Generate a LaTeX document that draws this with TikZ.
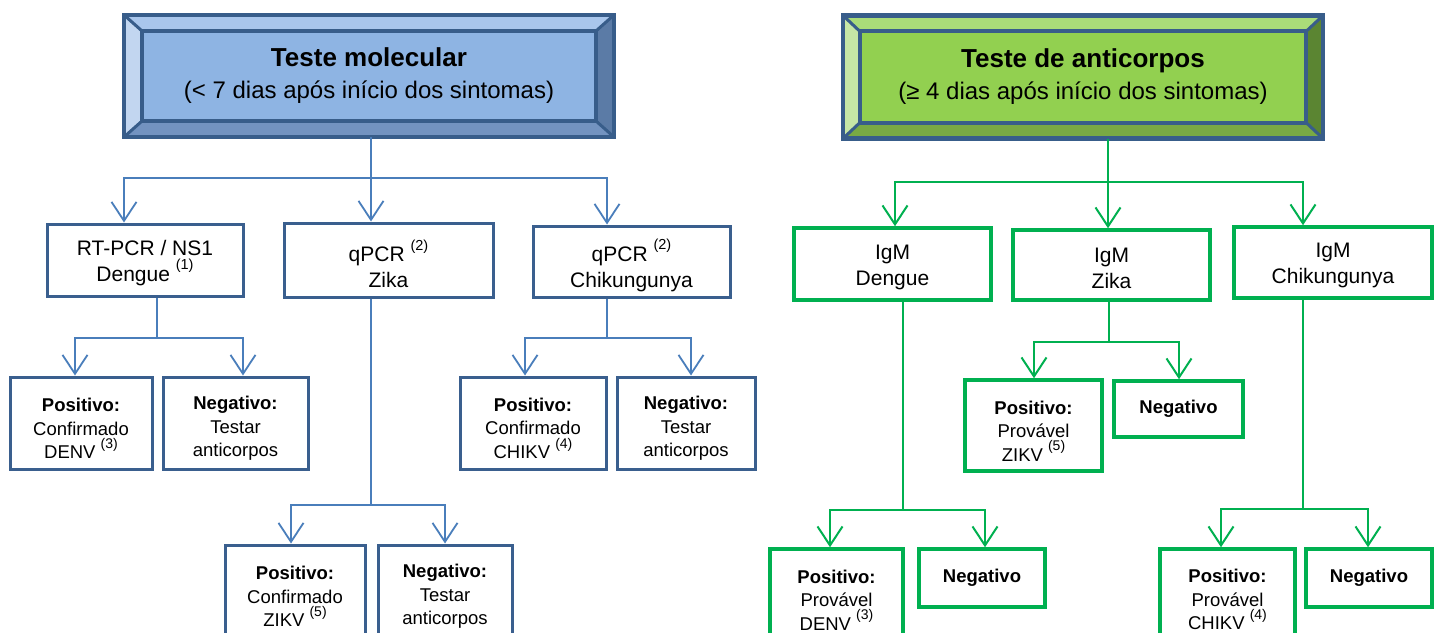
\documentclass[tikz,border=0pt]{standalone}
\usepackage{fontspec}
\setmainfont{Liberation Sans}
\usetikzlibrary{arrows.meta,calc}
\pgfdeclarelayer{background}
\pgfsetlayers{background,main}
\definecolor{hdrline}{HTML}{385D8A}
\definecolor{boxblue}{HTML}{3A5F8E}
\definecolor{connblue}{HTML}{4A7EBB}
\definecolor{grn}{HTML}{00B050}
\definecolor{bC}{HTML}{8EB4E3}
\definecolor{bT}{HTML}{A9C6EC}
\definecolor{bL}{HTML}{C2D6F0}
\definecolor{bR}{HTML}{5B7BA6}
\definecolor{bB}{HTML}{7393C0}
\definecolor{gC}{HTML}{92D050}
\definecolor{gT}{HTML}{AADC79}
\definecolor{gL}{HTML}{C6E6A6}
\definecolor{gR}{HTML}{5B8532}
\definecolor{gB}{HTML}{79A944}
\newcommand\upa[1]{\raisebox{0.55em}{\fontsize{14.5}{14.5}\selectfont #1}}
\newcommand\upb[1]{\raisebox{0.55em}{\fontsize{14}{14}\selectfont #1}}
\newcommand\tstr[1]{\rule{0pt}{#1}}
% bevel: name, dx, dy, top, left, right, bottom, centre
\newcommand\bevelbox[8]{%
  \begin{pgfonlayer}{background}
    \coordinate (#1-inw) at ($(#1.north west)+(#2,#3)$);
    \coordinate (#1-ine) at ($(#1.north east)+(-#2,#3)$);
    \coordinate (#1-isw) at ($(#1.south west)+(#2,-#3)$);
    \coordinate (#1-ise) at ($(#1.south east)+(-#2,-#3)$);
    \fill[#4] (#1.north west) -- (#1.north east) -- (#1-ine) -- (#1-inw) -- cycle;
    \fill[#5] (#1.north west) -- (#1-inw) -- (#1-isw) -- (#1.south west) -- cycle;
    \fill[#6] (#1.north east) -- (#1.south east) -- (#1-ise) -- (#1-ine) -- cycle;
    \fill[#7] (#1.south west) -- (#1-isw) -- (#1-ise) -- (#1.south east) -- cycle;
    \fill[#8] (#1-inw) rectangle (#1-ise);
    \draw[hdrline, line width=3pt] (#1.north west) -- (#1-inw) (#1.north east) -- (#1-ine)
      (#1.south west) -- (#1-isw) (#1.south east) -- (#1-ise);
    \draw[hdrline, line width=4pt] (#1-inw) rectangle (#1-ise);
    \draw[hdrline, line width=4.5pt] (#1.north west) rectangle (#1.south east);
  \end{pgfonlayer}}
\begin{document}
\begin{tikzpicture}[x=1pt,y=-1pt,
  hdr/.style={inner sep=0pt, align=center, font=\fontsize{24}{32}\selectfont},
  tbox/.style={draw, fill=white, inner sep=0pt, align=center, font=\fontsize{21}{26}\selectfont},
  lbox/.style={draw, fill=white, inner sep=0pt, align=center, font=\fontsize{18.5}{23.5}\selectfont},
  bluebox/.style={draw=boxblue, line width=3pt},
  greenbox/.style={draw=grn, line width=3.5pt},
  bconn/.style={draw=connblue, line width=1.8pt},
  gconn/.style={draw=grn, line width=2pt},
  arr/.style={-{Straight Barb[length=19pt,width=25pt]}}
]
\begin{pgfonlayer}{background}
\fill[white] (0,0) rectangle (1438,632);
\end{pgfonlayer}
\useasboundingbox (0,0) rectangle (1438,632);

% ---------- headers ----------
\node[hdr, minimum width=490pt, minimum height=122pt] (H1) at (369,76)
  {{\bfseries\fontsize{26}{32}\selectfont Teste molecular}\\(< 7 dias após início dos sintomas)};
\bevelbox{H1}{18}{16}{bT}{bL}{bR}{bB}{bC}
\node[hdr, minimum width=480pt, minimum height=123pt] (H2) at (1083,77)
  {{\bfseries\fontsize{26}{32}\selectfont Teste de anticorpos}\\(≥ 4 dias após início dos sintomas)};
\bevelbox{H2}{17}{16}{gT}{gL}{gR}{gB}{gC}

% ---------- blue boxes ----------
\node[tbox, bluebox, minimum width=196pt, minimum height=72pt] (b1) at (145,260) {\tstr{21pt}RT-PCR / NS1\\Dengue \upa{(1)}};
\node[tbox, bluebox, minimum width=209pt, minimum height=74pt] (b2) at (388.5,260) {\tstr{30pt}qPCR \upa{(2)}\\Zika};
\node[tbox, bluebox, minimum width=197pt, minimum height=71pt] (b3) at (631.5,261.5) {\tstr{30pt}qPCR \upa{(2)}\\Chikungunya};

\node[lbox, bluebox, minimum width=142pt, minimum height=92pt] (p1) at (81,423) {\tstr{24pt}\textbf{Positivo:}\\Confirmado\\DENV \upb{(3)}};
\node[lbox, bluebox, minimum width=145pt, minimum height=92pt] (n1) at (235.5,423) {\tstr{24pt}\textbf{Negativo:}\\Testar\\anticorpos};
\node[lbox, bluebox, minimum width=140pt, minimum height=92pt] (p2) at (295,591) {\tstr{24pt}\textbf{Positivo:}\\Confirmado\\ZIKV \upb{(5)}};
\node[lbox, bluebox, minimum width=134pt, minimum height=92pt] (n2) at (445,591) {\tstr{24pt}\textbf{Negativo:}\\Testar\\anticorpos};
\node[lbox, bluebox, minimum width=146pt, minimum height=92pt] (p3) at (533,423) {\tstr{24pt}\textbf{Positivo:}\\Confirmado\\CHIKV \upb{(4)}};
\node[lbox, bluebox, minimum width=138pt, minimum height=92pt] (n3) at (686,423) {\tstr{24pt}\textbf{Negativo:}\\Testar\\anticorpos};

% ---------- green boxes ----------
\node[tbox, greenbox, minimum width=197pt, minimum height=72pt] (g1) at (892.5,264) {\tstr{21pt}IgM\\Dengue};
\node[tbox, greenbox, minimum width=197pt, minimum height=70pt] (g2) at (1111.5,265) {\tstr{21pt}IgM\\Zika};
\node[tbox, greenbox, minimum width=198pt, minimum height=71pt] (g3) at (1333,262.5) {\tstr{21pt}IgM\\Chikungunya};

\node[lbox, greenbox, minimum width=137pt, minimum height=91pt] (gp2) at (1033.5,425.5) {\tstr{24pt}\textbf{Positivo:}\\Provável\\ZIKV \upb{(5)}};
\node[lbox, greenbox, minimum width=129pt, minimum height=56pt] (gn2) at (1178.5,409) {\textbf{Negativo}};
\node[lbox, greenbox, minimum width=133pt, minimum height=91pt] (gp1) at (836.5,594.5) {\tstr{24pt}\textbf{Positivo:}\\Provável\\DENV \upb{(3)}};
\node[lbox, greenbox, minimum width=126pt, minimum height=58pt] (gn1) at (982,578) {\textbf{Negativo}};
\node[lbox, greenbox, minimum width=135pt, minimum height=91pt] (gp3) at (1227.5,594.5) {\tstr{24pt}\textbf{Positivo:}\\Provável\\CHIKV \upb{(4)}};
\node[lbox, greenbox, minimum width=126pt, minimum height=58pt] (gn3) at (1369,578) {\textbf{Negativo}};

% ---------- blue connectors ----------
\coordinate (j1) at (371,178);
\coordinate (a1) at (124,178);
\coordinate (a3) at (607,178);
\draw[bconn] (H1.south -| j1) -- (j1);
\draw[bconn,arr] (j1) -- (a1) -- (a1 |- b1.north);
\draw[bconn,arr] (j1) -- (j1 |- b2.north);
\draw[bconn,arr] (j1) -- (a3) -- (a3 |- b3.north);

\coordinate (k1) at (157,338);
\coordinate (k1l) at (75,338);
\coordinate (k1r) at (243,338);
\draw[bconn] (b1.south -| k1) -- (k1);
\draw[bconn,arr] (k1) -- (k1l) -- (k1l |- p1.north);
\draw[bconn,arr] (k1) -- (k1r) -- (k1r |- n1.north);

\coordinate (k2) at (371,505);
\coordinate (k2l) at (291,505);
\coordinate (k2r) at (445,505);
\draw[bconn] (b2.south -| k2) -- (k2);
\draw[bconn,arr] (k2) -- (k2l) -- (k2l |- p2.north);
\draw[bconn,arr] (k2) -- (k2r) -- (k2r |- n2.north);

\coordinate (k3) at (607,338);
\coordinate (k3l) at (525,338);
\coordinate (k3r) at (691,338);
\draw[bconn] (b3.south -| k3) -- (k3);
\draw[bconn,arr] (k3) -- (k3l) -- (k3l |- p3.north);
\draw[bconn,arr] (k3) -- (k3r) -- (k3r |- n3.north);

% ---------- green connectors ----------
\coordinate (j2) at (1108,182);
\coordinate (c1) at (895,182);
\coordinate (c3) at (1303,182);
\draw[gconn] (H2.south -| j2) -- (j2);
\draw[gconn,arr] (j2) -- (c1) -- (c1 |- g1.north);
\draw[gconn,arr] (j2) -- (j2 |- g2.north);
\draw[gconn,arr] (j2) -- (c3) -- (c3 |- g3.north);

\coordinate (m1) at (903,510);
\coordinate (m1l) at (830,510);
\coordinate (m1r) at (985,510);
\draw[gconn] (g1.south -| m1) -- (m1);
\draw[gconn,arr] (m1) -- (m1l) -- (m1l |- gp1.north);
\draw[gconn,arr] (m1) -- (m1r) -- (m1r |- gn1.north);

\coordinate (m2) at (1109,342);
\coordinate (m2l) at (1034,342);
\coordinate (m2r) at (1179,342);
\draw[gconn] (g2.south -| m2) -- (m2);
\draw[gconn,arr] (m2) -- (m2l) -- (m2l |- gp2.north);
\draw[gconn,arr] (m2) -- (m2r) -- (m2r |- gn2.north);

\coordinate (m3) at (1303,509);
\coordinate (m3l) at (1221,509);
\coordinate (m3r) at (1368,509);
\draw[gconn] (g3.south -| m3) -- (m3);
\draw[gconn,arr] (m3) -- (m3l) -- (m3l |- gp3.north);
\draw[gconn,arr] (m3) -- (m3r) -- (m3r |- gn3.north);
\end{tikzpicture}
\end{document}
